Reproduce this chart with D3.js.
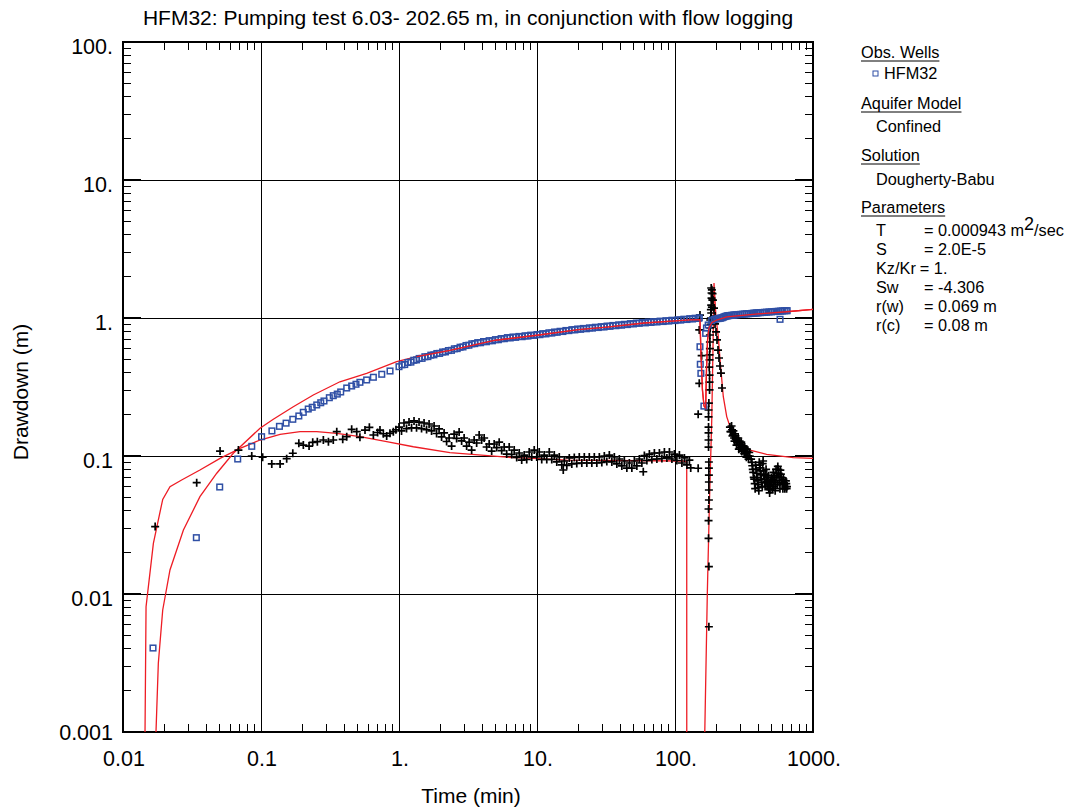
<!DOCTYPE html>
<html><head><meta charset="utf-8">
<script src="https://cdn.jsdelivr.net/npm/d3@7"></script>
<style>body{margin:0;background:#fff} svg{display:block} text{font-family:"Liberation Sans",Arial,sans-serif;fill:#000}</style>
</head><body><svg id="c" width="1067" height="807"></svg>
<script>
const titleText = "HFM32: Pumping test 6.03- 202.65 m, in conjunction with flow logging";
const xTickValues = [0.01, 0.1, 1, 10, 100, 1000];
const xTickLabels = ["0.01", "0.1", "1.", "10.", "100.", "1000."];
const yTickValues = [0.001, 0.01, 0.1, 1, 10, 100];
const yTickLabels = ["0.001", "0.01", "0.1", "1.", "10.", "100."];

// Observed drawdown HFM32 (time min, drawdown m)
const obsHFM32 = [
[0.0165,0.00406],[0.034,0.0256],[0.0502,0.0596],[0.0678,0.0951],[0.0857,0.1175],[0.101,0.138],[0.12,0.152],[0.136,0.164],[0.152,0.173],[0.170,0.1845],
[0.188,0.195],[0.2025,0.2073],[0.220,0.219],[0.235,0.2255],[0.2535,0.2344],[0.271,0.2432],[0.286,0.2504],[0.3127,0.2645],[0.334,0.2735],[0.357,0.281],
[0.378,0.291],[0.418,0.311],[0.454,0.3215],[0.488,0.331],[0.521,0.342],[0.583,0.3556],[0.652,0.372],[0.75,0.391],[0.861,0.413],
[1.0,0.444],[1.05,0.458],[1.1,0.460],[1.16,0.476],[1.22,0.479],[1.28,0.494],[1.34,0.497],[1.4,0.509],[1.47,0.510],[1.54,0.524],[1.62,0.525],
[1.7,0.538],[1.79,0.541],[1.88,0.553],[1.97,0.554],[2.07,0.567],[2.17,0.568],[2.28,0.581],[2.4,0.583],[2.52,0.598],[2.64,0.600],[2.77,0.614],
[2.91,0.617],[3.06,0.632],[3.21,0.635],[3.37,0.650],[3.54,0.652],[3.72,0.663],[3.9,0.662],[4.1,0.675],[4.3,0.673],[4.5,0.685],[4.75,0.684],
[5.0,0.697],[5.25,0.696],[5.5,0.709],[5.8,0.708],[6.1,0.721],[6.4,0.717],[6.7,0.728],[7.0,0.724],[7.4,0.735],[7.8,0.732],[8.2,0.743],[8.6,0.740],
[9.0,0.751],[9.5,0.748],[10,0.759],[10.5,0.757],[11,0.770],[11.6,0.767],[12.2,0.781],[12.8,0.778],[13.4,0.791],[14,0.788],[14.7,0.801],[15.4,0.798],
[16.2,0.812],[17,0.810],[17.9,0.823],[18.8,0.820],[19.7,0.832],[20.7,0.828],[21.7,0.840],[22.8,0.836],[24,0.848],[25.2,0.845],[26.5,0.857],
[27.8,0.853],[29.2,0.865],[30.6,0.861],[32.2,0.874],[33.8,0.870],[35.5,0.883],[37.3,0.879],[39.1,0.892],[41,0.887],[43,0.900],[45.2,0.896],
[47.5,0.910],[50,0.906],[52.5,0.919],[55,0.915],[58,0.928],[61,0.922],[64,0.935],[67,0.929],[70,0.941],[74,0.936],[78,0.949],[82,0.943],[86,0.956],
[90,0.950],[95,0.963],[100,0.958],[105,0.971],[110,0.966],[116,0.980],[122,0.975],[128,0.989],[134,0.984],[140,0.996],[147,0.992],[150,1.002],
[151.7,0.619],[152.5,0.462],[154,0.397],[162,0.230],
[166.7,0.774],[169,0.847],[174,0.890],[184.5,0.956],[192,0.975],[198,0.984],[205,0.99],[212,0.995],
[215,1.0],[220,1.005],[225,1.015],[230,1.025],[235,1.032],[240,1.037],[245,1.04],[250,1.043],[258,1.047],[265,1.05],[272,1.053],[280,1.056],
[290,1.06],[300,1.063],[310,1.066],[320,1.069],[330,1.072],[340,1.075],[350,1.077],[360,1.08],[370,1.083],[380,1.085],[390,1.087],[400,1.09],
[415,1.093],[430,1.096],[445,1.099],[460,1.102],[480,1.106],[500,1.109],[520,1.113],[540,1.116],[560,1.119],[577,0.978],[580,1.122],[600,1.125],
[620,1.128],[640,1.13],[650,1.13]
];

// Observed derivative (crosses)
const obsDerivative = [
[0.0171,0.0308],[0.0342,0.0641],[0.0505,0.1086],[0.0686,0.1104],[0.0857,0.100],[0.1028,0.098],[0.1197,0.0876],[0.1375,0.0876],[0.1535,0.0956],[0.170,0.1047],
[0.188,0.1236],[0.2027,0.120],[0.223,0.118],[0.237,0.1256],[0.256,0.127],[0.283,0.1306],[0.308,0.127],[0.334,0.1306],[0.354,0.150],[0.391,0.132],
[0.418,0.138],[0.454,0.156],[0.494,0.150],[0.521,0.1365],[0.567,0.154],[0.610,0.1614],[0.652,0.142],[0.70,0.148],[0.728,0.154],[0.77,0.145],
[0.814,0.1397],[0.86,0.146],[0.910,0.150],[0.95,0.155],
[1.000,0.162],[1.043,0.152],[1.087,0.1734],[1.134,0.158],[1.182,0.176],[1.233,0.160],[1.285,0.1794],[1.340,0.160],[1.397,0.176],[1.457,0.158],
[1.519,0.1734],[1.584,0.1555],[1.652,0.1706],[1.722,0.152],[1.796,0.165],[1.872,0.1456],[1.952,0.157],[2.035,0.1375],[2.122,0.147],[2.213,0.1274],
[2.307,0.135],[2.406,0.118],[2.508,0.144],[2.615,0.134],[2.727,0.149],[2.843,0.1285],[2.964,0.135],[3.091,0.118],[3.223,0.126],[3.360,0.1104],
[3.504,0.1306],[3.653,0.1242],[3.809,0.142],[3.971,0.1306],[4.141,0.135],[4.317,0.1162],[4.502,0.1222],[4.693,0.1086],[4.894,0.1222],[5.103,0.115],
[5.320,0.126],[5.547,0.1095],[5.784,0.1162],[6.031,0.1033],[6.288,0.1162],[6.556,0.1025],[6.836,0.1104],[7.127,0.0976],[7.431,0.1051],[7.748,0.0935],
[8.079,0.1016],[8.423,0.0943],[8.782,0.1069],[9.157,0.0984],[9.548,0.1104],[9.955,0.0984],[10.38,0.1069],[10.82,0.0943],[11.28,0.1016],[11.77,0.0943],
[12.27,0.1069],[12.79,0.0943],[13.34,0.1016],[13.91,0.0906],[14.50,0.0984],[15.12,0.0861],[15.5,0.0792],[15.76,0.092],[16.44,0.0854],[17.14,0.0968],
[17.87,0.0876],[18.63,0.0976],[19.42,0.0883],[20.25,0.0984],[21.12,0.089],[22.02,0.0984],[22.96,0.089],[23.93,0.0984],[24.96,0.089],[26.02,0.0984],
[27.13,0.089],[28.29,0.0984],[29.49,0.0898],[30.75,0.100],[32.06,0.0913],[33.43,0.1016],[34.86,0.0906],[36.34,0.0984],[37.89,0.0876],[39.51,0.0951],
[41.19,0.0847],[42.95,0.092],[44.78,0.0818],[46.69,0.089],[48.68,0.0818],[50.76,0.092],[52.92,0.0847],[55.18,0.0951],[57.53,0.089],[58.9,0.0769],
[59.99,0.1008],[62.54,0.0928],[65.21,0.1033],[67.99,0.0943],[70.89,0.1051],[73.92,0.0951],[77.07,0.1051],[80.36,0.0959],[83.79,0.1069],[87.36,0.0968],
[91.08,0.1069],[94.97,0.0951],[99.02,0.1033],[103.2,0.0928],[107.6,0.1016],[112.2,0.089],[117.0,0.0968],[122.0,0.0861],[127.2,0.0935],[130,0.082],
[151.7,1.05],[149.9,0.819],[156,0.533],[149.9,0.336],[147.2,0.201],[147.2,0.0815],
[176,0.00579],[176,0.0158],[175,0.0253],[175,0.034],[175,0.0413],[176,0.048],[176,0.0567],[176,0.0648],[176,0.0728],[176,0.0818],[176,0.0905],
[175,0.116],[175,0.1306],[175,0.147],[175,0.162],[175,0.192],[175,0.2155],[176,0.242],[178,0.301],[178,0.343],[178,0.386],[177,0.44],[178,0.497],
[178,0.540],[179,0.60],[179,0.670],[179,0.753],[180,0.847],[181,0.90],[180,0.967],[182,1.0],[183,1.087],[182,1.15],[185,1.2],[183,1.24],[186,1.35],
[184,1.395],[187,1.5],[184,1.517],[185,1.6],[183,1.65],
[188.4,1.349],[191.7,1.181],[195,1.034],[195,0.906],[198.3,0.793],[201.6,0.694],[205,0.586],[208.4,0.513],[211.8,0.449],[215.3,0.399],[219,0.311],
[250,0.162],[252,0.15],[255,0.150],[257,0.165],[259,0.155],[261,0.14],[263,0.142],[265,0.152],[268,0.135],[270,0.128],[272,0.145],[274,0.14],
[277,0.132],[279,0.12],[282,0.125],[284,0.13],[287,0.135],[290,0.112],[292,0.122],[294,0.128],[297,0.115],[300,0.12],[302,0.126],[305,0.108],
[308,0.118],[311,0.118],[314,0.110],[317,0.104],[320,0.116],[323,0.112],[326,0.105],[329,0.098],[332,0.112],[335,0.108],[338,0.100],[341,0.095],
[345,0.106],[348,0.1],
[356,0.095],[361,0.090],[363,0.085],[366,0.080],[369,0.076],[372,0.070],[375,0.068],[378,0.063],[381,0.058],[384,0.086],[387,0.080],[390,0.075],
[393,0.070],[396,0.066],[399,0.062],[402,0.059],[405,0.056],[408,0.090],[411,0.086],[414,0.082],[417,0.078],[420,0.073],[423,0.068],[426,0.064],
[429,0.060],[432,0.088],[435,0.092],[438,0.078],[441,0.072],[444,0.068],[447,0.064],[450,0.060],[453,0.074],[457,0.080],[460,0.065],[464,0.070],
[467,0.060],
[471,0.066],[474,0.072],[478,0.058],[481,0.062],[485,0.054],[488,0.057],[492,0.062],[496,0.066],[500,0.070],[504,0.064],[508,0.058],[512,0.068],
[516,0.076],[520,0.060],[524,0.066],[528,0.072],[532,0.056],[536,0.062],[540,0.080],[544,0.075],[548,0.070],[552,0.062],[556,0.084],[560,0.080],
[564,0.075],[568,0.070],[572,0.064],[576,0.058],[580,0.079],[585,0.074],[590,0.070],[595,0.066],[600,0.063],[605,0.058],[610,0.068],[615,0.064],
[620,0.062],[625,0.058],[632,0.060],[636,0.066],[640,0.063],[644,0.058],[648,0.060]
];

// Dougherty-Babu model curves
const modelDrawdown = [
[0.01725,0.0007],[0.01734,0.001],[0.01803,0.00315],[0.0194,0.00766],[0.0219,0.01493],[0.0274,0.0291],[0.0361,0.0507],[0.0478,0.075],[0.063,0.1047],
[0.0984,0.159],[0.1228,0.1845],[0.1714,0.2275],[0.2393,0.2766],[0.373,0.345],[0.583,0.397],[0.962,0.482],[1.343,0.525],[2.34,0.583],[5,0.69],
[10,0.75],[20,0.825],[32,0.86],[60,0.92],[128.5,0.968],[151.7,0.972],[154.2,0.557],[158.1,0.301],[162.3,0.230],[166.7,0.223],[169.1,0.42],
[172.2,0.694],[176.3,0.847],[184.5,0.925],[200.4,0.967],[237,1.02],[400,1.07],[644,1.11],[1000,1.156]
];
const modelDerivativeA = [
[0.0144,0.0007],[0.01469,0.00809],[0.0166,0.0233],[0.0194,0.0485],[0.0219,0.060],[0.0266,0.067],[0.0361,0.0792],[0.0505,0.0962],[0.0705,0.1137],
[0.0984,0.1306],[0.1375,0.1437],[0.192,0.150],[0.2535,0.150],[0.354,0.146],[0.521,0.138],[0.814,0.127],[1.27,0.1167],[2.34,0.1057],[6.03,0.098],
[9.4,0.0962],[16.4,0.0935],[114.8,0.092],[121.6,0.0906],[121.7,0.0005]
];
const modelDerivativeB = [
[162.3,0.0005],[171.5,0.01016],[177.8,0.048],[184.6,0.1824],[188.4,0.586],[191.7,1.79],[198.3,1.0],[205.9,0.733],[212,0.497],[223.9,0.269],
[237,0.193],[250.5,0.163],[280,0.1306],[349,0.1104],[461,0.1028],[720,0.0972],[1000,0.0962]
];

const legendRows = [
  {text:"Obs. Wells", x:861, y:58, u:true},
  {text:"Aquifer Model", x:861, y:109, u:true},
  {text:"Confined", x:876, y:132},
  {text:"Solution", x:861, y:161, u:true},
  {text:"Dougherty-Babu", x:876, y:185},
  {text:"Parameters", x:861, y:213, u:true}
];
const paramNames = ["T","S","Kz/Kr","Sw","r(w)","r(c)"];
const paramValues = ["= 0.000943 m","= 2.0E-5","= 1.","= -4.306","= 0.069 m","= 0.08 m"];

const L=123, R=813, T=42, B=732;
const svg = d3.select("#c");
const x = d3.scaleLog().domain([0.01,1000]).range([L,R]);
const y = d3.scaleLog().domain([0.001,100]).range([B,T]);

svg.append("defs").append("clipPath").attr("id","clip").append("rect")
  .attr("x",L).attr("y",T).attr("width",R-L).attr("height",B-T);

// grid
const g = svg.append("g").attr("shape-rendering","crispEdges");
g.selectAll(".gx").data(xTickValues.slice(1,-1)).join("line")
  .attr("x1",d=>x(d)).attr("x2",d=>x(d)).attr("y1",T).attr("y2",B).attr("stroke","#000").attr("stroke-width",1);
g.selectAll(".gy").data(yTickValues.slice(1,-1)).join("line")
  .attr("y1",d=>y(d)).attr("y2",d=>y(d)).attr("x1",L).attr("x2",R).attr("stroke","#000").attr("stroke-width",1);

// minor ticks inside all four sides
const xMinor = x.ticks().filter(v=>!xTickValues.some(m=>Math.abs(m-v)/m<1e-9));
const yMinor = y.ticks().filter(v=>!yTickValues.some(m=>Math.abs(m-v)/m<1e-9));
const tl=8, TL=18;
xMinor.forEach(v=>{
  g.append("line").attr("x1",x(v)).attr("x2",x(v)).attr("y1",B).attr("y2",B-tl).attr("stroke","#000");
  g.append("line").attr("x1",x(v)).attr("x2",x(v)).attr("y1",T).attr("y2",T+tl).attr("stroke","#000");
});
yMinor.forEach(v=>{
  g.append("line").attr("y1",y(v)).attr("y2",y(v)).attr("x1",L).attr("x2",L+tl).attr("stroke","#000");
  g.append("line").attr("y1",y(v)).attr("y2",y(v)).attr("x1",R).attr("x2",R-tl).attr("stroke","#000");
});
yTickValues.forEach(v=>{
  g.append("line").attr("y1",y(v)).attr("y2",y(v)).attr("x1",L).attr("x2",L+TL).attr("stroke","#000").attr("stroke-width",2);
  g.append("line").attr("y1",y(v)).attr("y2",y(v)).attr("x1",R).attr("x2",R-TL).attr("stroke","#000").attr("stroke-width",2);
});
g.append("rect").attr("x",L).attr("y",T).attr("width",R-L).attr("height",B-T).attr("fill","none").attr("stroke","#000").attr("stroke-width",1.2);

// tick labels
svg.selectAll(".xl").data(xTickValues).join("text")
  .attr("x",d=>x(d)+1).attr("y",B+34).attr("text-anchor","middle").attr("font-size",21.5).text((d,i)=>xTickLabels[i]);
svg.selectAll(".yl").data(yTickValues).join("text")
  .attr("x",L-10).attr("y",(d,i)=>y(d)+(i===0?8:12)).attr("text-anchor","end").attr("font-size",21.5).text((d,i)=>yTickLabels[i]);

// titles
svg.append("text").attr("x",468).attr("y",25).attr("text-anchor","middle").attr("font-size",21).text(titleText);
svg.append("text").attr("x",471).attr("y",803).attr("text-anchor","middle").attr("font-size",21).text("Time (min)");
svg.append("text").attr("transform","translate(28,392) rotate(-90)").attr("text-anchor","middle").attr("font-size",21).text("Drawdown (m)");

// data
const plot = svg.append("g").attr("clip-path","url(#clip)");
const line = d3.line().x(d=>x(d[0])).y(d=>y(d[1]));
const red = "#ee1c24";
[modelDrawdown, modelDerivativeA, modelDerivativeB].forEach(s=>{
  plot.append("path").attr("d",line(s)).attr("fill","none").attr("stroke",red).attr("stroke-width",1.3);
});
plot.selectAll(".cr").data(obsDerivative).join("path")
  .attr("transform",d=>`translate(${x(d[0])},${y(d[1])})`)
  .attr("d","M-4,0H4M0,-4V4").attr("stroke","#000").attr("stroke-width",1.7).attr("fill","none");
plot.selectAll(".sq").data(obsHFM32).join("rect")
  .attr("x",d=>x(d[0])-2.8).attr("y",d=>y(d[1])-2.8).attr("width",5.6).attr("height",5.6)
  .attr("fill","none").attr("stroke","#2f4fa5").attr("stroke-width",1.5);
// red model line drawn over the dense square band
plot.append("path").attr("d",line(modelDrawdown.filter(d=>d[0]>=1.3))).attr("fill","none").attr("stroke",red).attr("stroke-width",1.3);

// legend
const lg = svg.append("g").attr("font-size",16.3);
legendRows.forEach(r=>{
  const t = lg.append("text").attr("x",r.x).attr("y",r.y).text(r.text);
  if(r.u){
    const w = t.node().getComputedTextLength();
    lg.append("line").attr("x1",r.x).attr("x2",r.x+w).attr("y1",r.y+3).attr("y2",r.y+3).attr("stroke","#000").attr("stroke-width",1);
  }
});
lg.append("rect").attr("x",873).attr("y",71).attr("width",5).attr("height",5).attr("fill","none").attr("stroke","#2f4fa5").attr("stroke-width",1);
lg.append("text").attr("x",884).attr("y",79).text("HFM32");
paramNames.forEach((n,i)=>{
  const yy = 236 + i*19;
  const nt = lg.append("text").attr("x",876).attr("y",yy).text(n);
  const ex = n==="Kz/Kr" ? 876 + nt.node().getComputedTextLength() + 4 : 924;
  const t = lg.append("text").attr("x", ex).attr("y",yy).text(paramValues[i]);
  if(i===0){
    t.append("tspan").attr("dy",-6).attr("font-size",18).text("2");
    t.append("tspan").attr("dy",6).text("/sec");
  }
});
</script></body></html>
